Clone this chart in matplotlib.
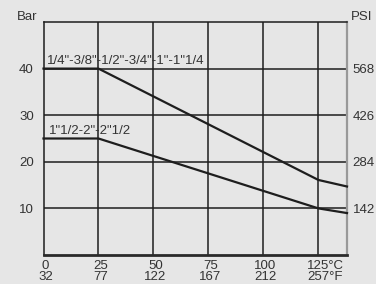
import matplotlib
matplotlib.use("Agg")
import matplotlib.pyplot as plt
from matplotlib.transforms import ScaledTranslation

plt.rcParams['font.family'] = ['Liberation Sans', 'DejaVu Sans']
plt.rcParams['font.size'] = 9.5

# temperature (C) and pressure (bar)
temp_c = [0, 25, 125, 138]
bar_small = [40, 40, 16.1, 14.7]
bar_large = [25, 25, 10.0, 9.0]

label_small = '1/4"-3/8"-1/2"-3/4"-1"-1"1/4'
label_large = '1"1/2-2"-2"1/2'

xticks_c = [0, 25, 50, 75, 100, 125]
xticks_f = [32, 77, 122, 167, 212, 257]
yticks_bar = [10, 20, 30, 40]
yticks_psi = [142, 284, 426, 568]

bg = '#e6e6e6'
dark = '#1e1e1e'
txt = '#333333'

fig = plt.figure(figsize=(3.76, 2.84), dpi=100, facecolor=bg)
ax = fig.add_axes([43.5/376, 1-255/284, (347-43.5)/376, (255-22)/284])
ax.set_facecolor(bg)

ax.set_xlim(0, 138)
ax.set_ylim(0, 50)

for x in xticks_c[1:]:
    ax.axvline(x, color=dark, lw=1.1, zorder=1)
for y in yticks_bar:
    ax.axhline(y, color=dark, lw=1.1, zorder=1)

ax.plot(temp_c, bar_small, color=dark, lw=1.6, zorder=3, clip_on=False)
ax.plot(temp_c, bar_large, color=dark, lw=1.6, zorder=3, clip_on=False)

ax.annotate(label_small, (0, 40), xytext=(2.5, 3), textcoords='offset points',
            va='baseline', ha='left', color=txt)
ax.annotate(label_large, (0, 25), xytext=(4, 3.5), textcoords='offset points',
            va='baseline', ha='left', color=txt)

ax.set_xticks(xticks_c)
labels = [f"{c}\n{f}" for c, f in zip(xticks_c, xticks_f)]
labels[-1] = f"{xticks_c[-1]}°C\n{xticks_f[-1]}°F"
ax.set_xticklabels(labels, color=txt, linespacing=0.95)
ax.set_yticks(yticks_bar)
ax.set_yticklabels([str(v) for v in yticks_bar], color=txt)
ax.tick_params(axis='x', length=0, pad=3.5)
ax.tick_params(axis='y', length=0, pad=7)

# labels in the original sit a little right of their ticks
tick_labels = ax.get_xticklabels()
for i, lab in enumerate(tick_labels):
    dx = 7 if i == len(tick_labels) - 1 else 2
    lab.set_transform(lab.get_transform() + ScaledTranslation(dx / 100, 0, fig.dpi_scale_trans))

for s in ['left', 'top']:
    ax.spines[s].set_color(dark)
    ax.spines[s].set_linewidth(1.1)
ax.spines['bottom'].set_color('#2a2a2a')
ax.spines['bottom'].set_linewidth(2)
ax.spines['right'].set_color('#999999')
ax.spines['right'].set_linewidth(1.6)

sec = ax.secondary_yaxis('right', functions=(lambda b: b * 14.2, lambda p: p / 14.2))
sec.set_yticks(yticks_psi)
sec.set_yticklabels([str(v) for v in yticks_psi], color=txt)
sec.tick_params(length=0, pad=4)
sec.spines['right'].set_visible(False)

fig.text(27/376, 1-17/284, 'Bar', ha='center', va='center', color=txt)
fig.text(351/376, 1-17/284, 'PSI', ha='left', va='center', color=txt)

fig.savefig('out.png', dpi=100, facecolor=bg)
